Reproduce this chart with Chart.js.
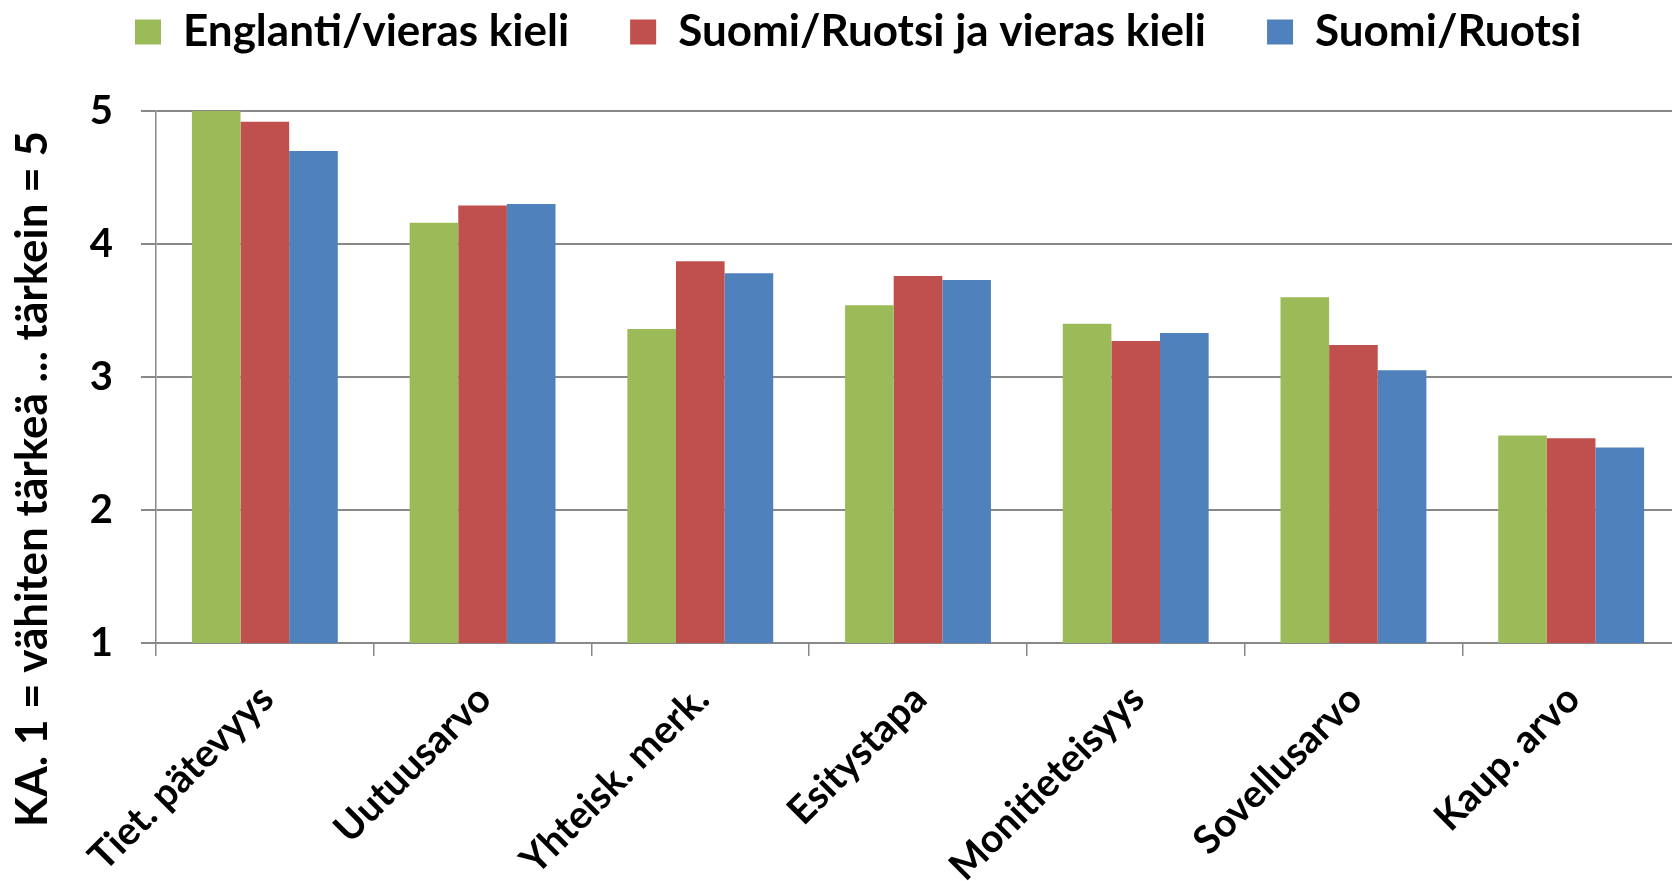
<!DOCTYPE html>
<html>
<head>
<meta charset="utf-8">
<script src="https://cdn.jsdelivr.net/npm/chart.js@4/dist/chart.umd.min.js"></script>
<style>
  html, body { margin: 0; padding: 0; background: #ffffff; overflow: hidden; }
  #wrap { position: absolute; left: 0; top: 0; width: 1680px; height: 881px; }
</style>
</head>
<body>
<div id="wrap"><canvas id="c" width="1680" height="881"></canvas></div>
<script>
const categories = ['Tiet. pätevyys', 'Uutuusarvo', 'Yhteisk. merk.', 'Esitystapa', 'Monitieteisyys', 'Sovellusarvo', 'Kaup. arvo'];
const seriesNames = ['Englanti/vieras kieli', 'Suomi/Ruotsi ja vieras kieli', 'Suomi/Ruotsi'];
const englantiVieras = [5.00, 4.16, 3.36, 3.54, 3.40, 3.60, 2.56];
const suomiRuotsiJaVieras = [4.92, 4.29, 3.87, 3.76, 3.27, 3.24, 2.54];
const suomiRuotsi = [4.70, 4.30, 3.78, 3.73, 3.33, 3.05, 2.47];
const yTickValues = [1, 2, 3, 4, 5];
const yAxisTitle = 'KA. 1 = vähiten tärkeä ... tärkein = 5';

const FONT = 'Lato, "Open Sans", sans-serif';
const GRID = '#888888';

const yTitlePlugin = {
  id: 'yTitle',
  afterDraw(chart) {
    const ctx = chart.ctx;
    ctx.save();
    ctx.font = 'bold 44px ' + FONT;
    ctx.fillStyle = '#000000';
    ctx.textAlign = 'center';
    ctx.textBaseline = 'middle';
    ctx.translate(33, 479);
    ctx.rotate(-Math.PI / 2);
    ctx.fillText(yAxisTitle, 0, 0);
    ctx.restore();
  }
};

const legendShift = {
  id: 'legendShift',
  beforeUpdate(chart) {
    const lg = chart.legend;
    if (lg && !lg._patched) {
      lg._patched = true;
      const fit = lg.fit;
      lg.fit = function () { fit.call(this); this.height = 111; };
      const draw = lg.draw;
      lg.draw = function () {
        const ctx = this.ctx;
        let dx = 0, dy = 0;
        const hb = this.legendHitBoxes && this.legendHitBoxes[0];
        if (hb) {
          dx = 135 - hb.left;
          dy = 32 - (hb.top + hb.height / 2);
        }
        ctx.save();
        ctx.translate(dx, dy);
        draw.call(this);
        ctx.restore();
      };
    }
  }
};

const chart = new Chart(document.getElementById('c'), {
  type: 'bar',
  data: {
    labels: categories,
    datasets: [
      { label: seriesNames[0], data: englantiVieras, backgroundColor: '#9BBB59' },
      { label: seriesNames[1], data: suomiRuotsiJaVieras, backgroundColor: '#C0504D' },
      { label: seriesNames[2], data: suomiRuotsi, backgroundColor: '#4F81BD' }
    ]
  },
  options: {
    responsive: false,
    animation: false,
    devicePixelRatio: 1,
    layout: { padding: { left: 0, right: 0, top: 0, bottom: 0 } },
    datasets: { bar: { categoryPercentage: 0.67, barPercentage: 1.0, borderWidth: 0 } },
    plugins: {
      tooltip: { enabled: false },
      legend: {
        position: 'top',
        labels: {
          color: '#000000',
          font: { family: FONT, weight: 'bold', size: 44 },
          boxWidth: 26,
          boxHeight: 25,
          padding: 61
        }
      }
    },
    scales: {
      x: {
        afterFit(scale) { scale.height = 238; },
        grid: { display: true, drawOnChartArea: false, drawTicks: true, tickLength: 13, color: GRID, lineWidth: 1.5, offset: true },
        border: { display: true, color: GRID, width: 2 },
        ticks: {
          color: '#000000',
          font: { family: FONT, weight: 'bold', size: 39 },
          minRotation: 45,
          maxRotation: 45,
          autoSkip: false,
          padding: 20,
          labelOffset: 2
        }
      },
      y: {
        min: 1,
        max: 5,
        afterFit(scale) { scale.width = 156; },
        afterBuildTicks(scale) { scale.ticks = yTickValues.map(v => ({ value: v })); },
        grid: { color: GRID, lineWidth: 2, tickLength: 15, drawTicks: true },
        border: { display: true, color: GRID, width: 1.5 },
        ticks: {
          color: '#000000',
          font: { family: FONT, weight: 'bold', size: 40 },
          padding: 28,
          stepSize: 1
        }
      }
    }
  },
  plugins: [legendShift, yTitlePlugin]
});
</script>
</body>
</html>
